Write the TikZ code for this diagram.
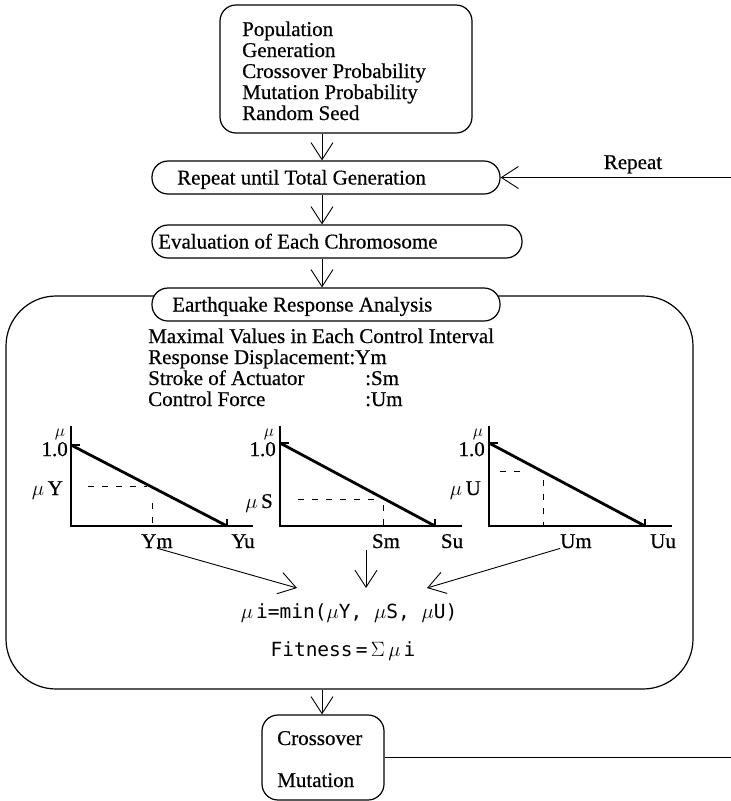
\documentclass[tikz,border=0pt]{standalone}
\usepackage{fontspec}
\setmainfont{Liberation Serif}[FakeBold=0.5]
\newfontfamily\monof{DejaVu Sans Mono}
\usetikzlibrary{arrows.meta}
\begin{document}
\begin{tikzpicture}[x=1pt,y=-1pt,
 txt/.style={inner sep=0pt, anchor=base west, font=\fontsize{21}{21}\selectfont},
 ctxt/.style={inner sep=0pt, anchor=base, font=\fontsize{21}{21}\selectfont},
 rtxt/.style={inner sep=0pt, anchor=base east, font=\fontsize{21}{21}\selectfont},
 mutxt/.style={inner sep=0pt, anchor=center, font=\fontsize{17}{17}\selectfont},
 box/.style={draw, line width=1.2pt, rounded corners=16pt, inner sep=0pt},
 pill/.style={draw, line width=1.2pt, rounded corners=16pt, fill=white, inner sep=0pt, minimum height=33pt},
 arr/.style={-{Straight Barb[length=17pt,width=22pt,line width=0.9pt]}, line width=0.9pt},
 conn/.style={line width=0.9pt},
 axisln/.style={line width=1.4pt},
 mline/.style={line width=2.8pt},
 dsh/.style={line width=0.8pt, dash pattern=on 6pt off 8pt},
 formula/.style={inner sep=0pt, anchor=base, font=\fontsize{19.5}{19.5}\monof},
]
\useasboundingbox (0,0) rectangle (731,801);
\coordinate (col) at (322,0);

% top box
\node[box, minimum width=252pt, minimum height=128pt] (top) at (346,69) {};
\node[txt] (t1) at (242,36) {Population};
\node[txt] (t2) at (242,57) {Generation};
\node[txt] (t3) at (242,78) {Crossover Probability};
\node[txt] (t4) at (242,99) {Mutation Probability};
\node[txt] (t5) at (242,120) {Random Seed};

% repeat / evaluation
\node[pill, minimum width=348pt] (rep) at (326,177.5) {};
\node[txt] (rept) at (177,184.5) {Repeat until Total Generation};
\node[pill, minimum width=370pt] (eva) at (337,241.5) {};
\node[txt] (evat) at (158,248.5) {Evaluation of Each Chromosome};

% big box and earthquake pill
\node[draw, line width=1.2pt, rounded corners=50pt, minimum width=687pt, minimum height=393pt, inner sep=0pt] (big) at (349.5,492.5) {};
\node[pill, minimum width=348pt] (eq) at (326,304.5) {};
\node[txt] (eqt) at (172,311.5) {Earthquake Response Analysis};

% crossover box
\node[box, minimum width=122pt, minimum height=85pt] (cross) at (323,757.5) {};
\node[txt] (cr1) at (277,745) {Crossover};
\node[txt] (cr2) at (277,787) {Mutation};

% main arrows
\draw[arr] (top.south -| col) -- (rep.north -| col);
\draw[arr] (rep.south -| col) -- (eva.north -| col);
\draw[arr] (eva.south -| col) -- (eq.north -| col);
\draw[arr] (big.south -| col) -- (cross.north -| col);

% repeat loop
\coordinate (rin) at (731,177.5);
\draw[arr] (rin) -- (rep.east);
\node[ctxt] (rlab) at (633,169) {Repeat};
\coordinate (xout) at (731,757.5);
\draw[conn] (cross.east) -- (xout);

% interior text
\node[txt] (m1) at (148,343) {Maximal Values in Each Control Interval};
\node[txt] (m2) at (148,364) {Response Displacement:Ym};
\node[txt] (m3) at (148,385) {Stroke of Actuator};
\node[txt] (m3b) at (365,385) {:Sm};
\node[txt] (m4) at (148,406) {Control Force};
\node[txt] (m4b) at (365,406) {:Um};

% graph 1
\draw[axisln] (71,426) -- (71,526) -- (253,526);
\draw[axisln] (71,445) -- (80,445);
\draw[axisln] (227,519) -- (227,526);
\draw[mline] (71,445) -- (227,526);
\draw[dsh] (88,486) -- (147,486);
\draw[dsh] (152,503) -- (152,526);
\node[rtxt] (one1) at (68,456) {1.0};
\node[mutxt] (mu1) at (60,434) {$\mu$};
\node[rtxt] (muy) at (63,495) {$\mu$\,Y};
\node[ctxt] (ym) at (157,548) {Ym};
\node[ctxt] (yu) at (243,548) {Yu};

% graph 2
\draw[axisln] (280,426) -- (280,526) -- (462,526);
\draw[axisln] (280,443) -- (289,443);
\draw[axisln] (435,519) -- (435,526);
\draw[mline] (280,443) -- (435,526);
\draw[dsh] (298,499) -- (380,499);
\draw[dsh] (383,505) -- (383,526);
\node[rtxt] (one2) at (276,456) {1.0};
\node[mutxt] (mu2) at (269,434) {$\mu$};
\node[rtxt] (mus) at (273,508) {$\mu$\,S};
\node[ctxt] (sm) at (386,548) {Sm};
\node[ctxt] (su) at (452,548) {Su};

% graph 3
\draw[axisln] (489,426) -- (489,526) -- (672,526);
\draw[axisln] (489,443) -- (498,443);
\draw[axisln] (645,519) -- (645,526);
\draw[mline] (489,443) -- (645,526);
\draw[dsh] (500,471) -- (525,471);
\draw[dsh] (543,480) -- (543,526);
\node[rtxt] (one3) at (485,456) {1.0};
\node[mutxt] (mu3) at (478,434) {$\mu$};
\node[rtxt] (muu) at (481,495) {$\mu$\,U};
\node[ctxt] (um) at (576,548) {Um};
\node[ctxt] (uu) at (663,548) {Uu};

% arrows to formula
\coordinate (f1) at (297,588);
\coordinate (f2) at (366,588);
\coordinate (f3) at (427,588);
\coordinate (s2) at (366,550);
\draw[arr] (ym.south) -- (f1);
\draw[arr] (s2) -- (f2);
\draw[arr] (um.south west) -- (f3);

% formulas
\node[formula] (fm) at (349,618) {$\mu$\,i=min($\mu$Y, $\mu$S, $\mu$U)};
\node[formula] (fit) at (343,656) {Fitness\,=\,$\Sigma\,\mu$\,i};
\end{tikzpicture}
\end{document}
